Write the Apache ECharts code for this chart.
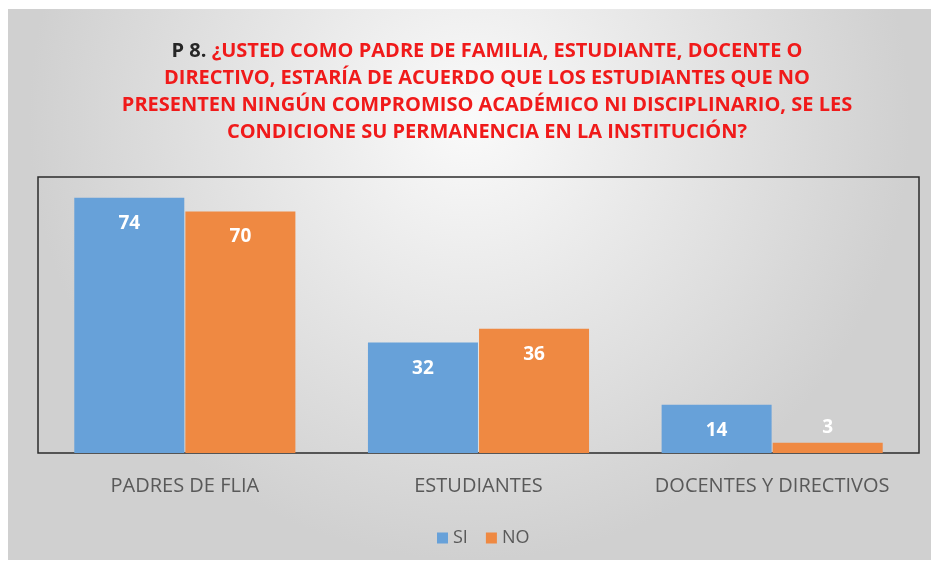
<!DOCTYPE html>
<html>
<head>
<meta charset="utf-8">
<script src="https://cdn.jsdelivr.net/npm/echarts@6/dist/echarts.min.js"></script>
<style>
  html, body { margin: 0; padding: 0; background: #fff; }
  #chart { width: 937px; height: 566px; }
</style>
</head>
<body>
<div id="chart"></div>
<script>
// chart data
const categories = ['PADRES DE FLIA', 'ESTUDIANTES', 'DOCENTES Y DIRECTIVOS']
const seriesNames = ['SI', 'NO']
const siValues = [74, 32, 14]
const noValues = [70, 36, 3]
const titleLines = [
  '¿USTED COMO PADRE DE FAMILIA, ESTUDIANTE, DOCENTE O',
  'DIRECTIVO, ESTARÍA DE ACUERDO QUE LOS ESTUDIANTES QUE NO',
  'PRESENTEN NINGÚN COMPROMISO ACADÉMICO NI DISCIPLINARIO, SE LES',
  'CONDICIONE SU PERMANENCIA EN LA INSTITUCIÓN?'
]

const FONT = '"Open Sans", sans-serif'
const colors = ['#67A1D9', '#EF8942']

const chart = echarts.init(document.getElementById('chart'))

const titleText = titleLines.map((t, i) =>
  (i === 0 ? '{k|P 8. }' : '') + '{r|' + t + '}'
).join('\n')

// small bars get their label above the bar
function makeData(values) {
  return values.map(v => {
    if (v < 8) {
      return { value: v, label: { position: 'top', distance: 6 } }
    }
    return v
  })
}

const barLabel = {
  show: true,
  position: 'insideTop',
  distance: 16,
  color: '#fff',
  fontFamily: FONT,
  fontWeight: 'bold',
  fontSize: 19
}

chart.setOption({
  animation: false,
  color: colors,
  graphic: [{
    type: 'rect',
    z: -10,
    shape: { x: 8, y: 9, width: 923, height: 551 },
    style: {
      fill: {
        type: 'radial', x: 0.5, y: 0.2, r: 0.8,
        colorStops: [
          { offset: 0, color: '#fafafa' },
          { offset: 1, color: '#d0d0d0' }
        ]
      }
    }
  }],
  title: {
    text: titleText,
    left: 482,
    top: 33,
    textAlign: 'center',
    textStyle: {
      rich: {
        k: { color: '#262626', fontFamily: FONT, fontWeight: 'bold', fontSize: 20, lineHeight: 27 },
        r: { color: '#F01A1A', fontFamily: FONT, fontWeight: 'bold', fontSize: 20, lineHeight: 27 }
      }
    }
  },
  legend: {
    top: 524,
    left: 432,
    itemWidth: 11,
    itemHeight: 11,
    itemGap: 18,
    icon: 'rect',
    textStyle: { color: '#595959', fontSize: 18, fontFamily: FONT },
    data: seriesNames
  },
  grid: {
    left: 38,
    right: 18,
    top: 177,
    bottom: 113,
    show: true,
    borderColor: '#2b2b2b',
    borderWidth: 1.5,
    backgroundColor: 'transparent'
  },
  xAxis: {
    type: 'category',
    data: categories,
    axisLine: { show: false },
    axisTick: { show: false },
    axisLabel: {
      interval: 0,
      color: '#595959',
      fontSize: 20,
      fontFamily: FONT,
      margin: 23
    }
  },
  yAxis: {
    type: 'value',
    min: 0,
    max: 80,
    show: false,
    splitLine: { show: false }
  },
  series: [
    {
      name: seriesNames[0],
      type: 'bar',
      barWidth: 110,
      barGap: '1%',
      data: makeData(siValues),
      label: barLabel
    },
    {
      name: seriesNames[1],
      type: 'bar',
      barWidth: 110,
      barGap: '1%',
      data: makeData(noValues),
      label: barLabel
    }
  ]
})
</script>
</body>
</html>
